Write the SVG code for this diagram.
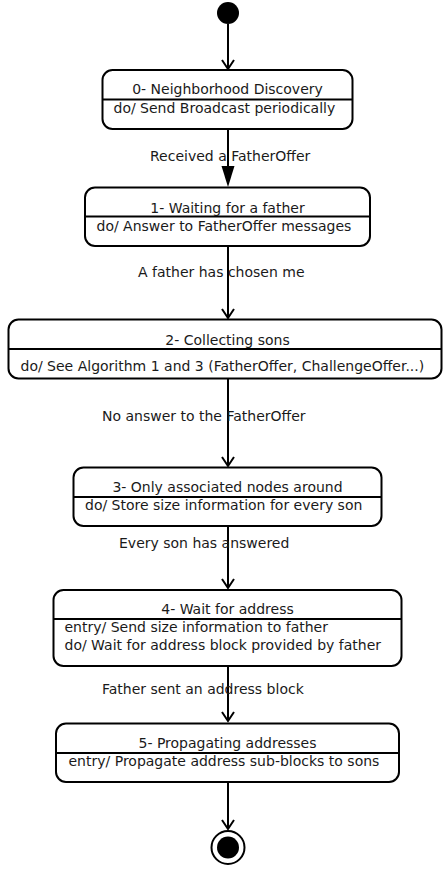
<svg xmlns="http://www.w3.org/2000/svg" width="443" height="870" viewBox="0 0 443 870">
<style>
text{font-family:"DejaVu Sans",sans-serif;font-size:14px;fill:#1a1a1a}
.t{text-anchor:middle}
.box{fill:#fff;stroke:#000;stroke-width:2}
.div{stroke:#000;stroke-width:2}
.c{stroke:#000;stroke-width:2;fill:none}
</style>
<defs>
<marker id="open" markerWidth="12" markerHeight="14" refX="10" refY="7" orient="auto" markerUnits="userSpaceOnUse" viewBox="0 0 12 14">
<path d="M1,1 L10,7 L1,13" fill="none" stroke="#000" stroke-width="2"/>
</marker>
</defs>
<rect width="443" height="870" fill="#fff"/>
<g id="connectors">
<line class="c" x1="228" y1="24" x2="228" y2="69" marker-end="url(#open)"/>
<line class="c" x1="228" y1="129" x2="228" y2="170"/>
<path d="M221.5,166 L234.5,166 L228,187 Z" fill="#000"/>
<line class="c" x1="228" y1="246" x2="228" y2="318" marker-end="url(#open)"/>
<line class="c" x1="228" y1="379" x2="228" y2="466" marker-end="url(#open)"/>
<line class="c" x1="228" y1="526" x2="228" y2="588" marker-end="url(#open)"/>
<line class="c" x1="228" y1="666" x2="228" y2="721" marker-end="url(#open)"/>
<line class="c" x1="228" y1="782" x2="228" y2="829" marker-end="url(#open)"/>
<text x="150" y="161">Received a FatherOffer</text>
<text x="138" y="277">A father has chosen me</text>
<text x="102" y="421">No answer to the FatherOffer</text>
<text x="119" y="548">Every son has answered</text>
<text x="102" y="694">Father sent an address block</text>
</g>
<g id="initial"><circle cx="228" cy="13" r="11" fill="#000"/></g>
<g id="s0">
<rect class="box" x="102.5" y="70" width="250" height="59" rx="10"/>
<line class="div" x1="102.5" y1="99.5" x2="352.5" y2="99.5"/>
<text class="t" x="227.5" y="94">0- Neighborhood Discovery</text>
<text x="113.5" y="113">do/ Send Broadcast periodically</text>
</g>
<g id="s1">
<rect class="box" x="85" y="187.5" width="285" height="58.5" rx="10"/>
<line class="div" x1="85" y1="216.5" x2="370" y2="216.5"/>
<text class="t" x="227.5" y="213">1- Waiting for a father</text>
<text x="96.5" y="231">do/ Answer to FatherOffer messages</text>
</g>
<g id="s2">
<rect class="box" x="8.5" y="319.5" width="433" height="59" rx="10"/>
<line class="div" x1="8.5" y1="349" x2="441.5" y2="349"/>
<text class="t" x="227.5" y="345">2- Collecting sons</text>
<text x="20.5" y="371">do/ See Algorithm 1 and 3 (FatherOffer, ChallengeOffer...)</text>
</g>
<g id="s3">
<rect class="box" x="73.5" y="467.5" width="308" height="58.5" rx="10"/>
<line class="div" x1="73.5" y1="497" x2="381.5" y2="497"/>
<text class="t" x="227.5" y="492">3- Only associated nodes around</text>
<text x="85" y="510">do/ Store size information for every son</text>
</g>
<g id="s4">
<rect class="box" x="53.5" y="590" width="348" height="76" rx="10"/>
<line class="div" x1="53.5" y1="619" x2="401.5" y2="619"/>
<text class="t" x="227.5" y="614">4- Wait for address</text>
<text x="64.5" y="632">entry/ Send size information to father</text>
<text x="64.5" y="650">do/ Wait for address block provided by father</text>
</g>
<g id="s5">
<rect class="box" x="56" y="723.5" width="343" height="58.5" rx="10"/>
<line class="div" x1="56" y1="753" x2="399" y2="753"/>
<text class="t" x="227.5" y="748">5- Propagating addresses</text>
<text x="68.5" y="766">entry/ Propagate address sub-blocks to sons</text>
</g>
<g id="final">
<circle cx="228" cy="847.5" r="16.5" fill="#fff" stroke="#000" stroke-width="2"/>
<circle cx="228" cy="847.5" r="11" fill="#000"/>
</g>
</svg>
